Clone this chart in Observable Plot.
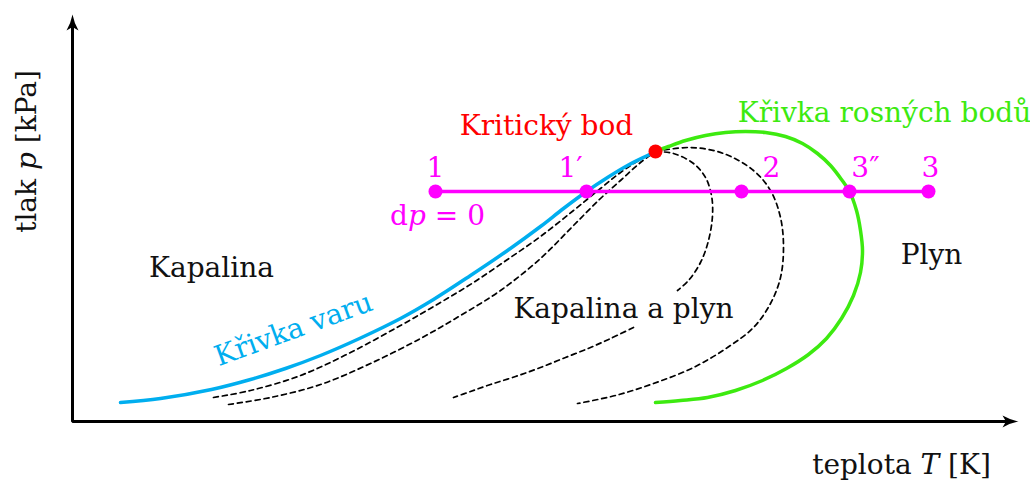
<!DOCTYPE html>
<html><head><meta charset="utf-8">
<script src="https://cdn.jsdelivr.net/npm/d3@7"></script>
<script src="https://cdn.jsdelivr.net/npm/@observablehq/plot@0.6"></script>
<style>body{margin:0;background:#fff} svg text{font-family:"DejaVu Serif","Liberation Serif",serif !important}</style>
</head><body><div id="chart"></div>
<script>
// T (temperature, arbitrary units) and p (pressure, arbitrary units)
const boilingT = [48, 88, 139, 178, 213, 248, 287, 328, 361, 398, 435, 468, 491, 514, 535, 555, 575, 583];
const boilingP = [19, 23, 32, 42, 53, 66, 83, 103, 122, 146, 171, 195, 213, 230, 244, 256, 266, 270];

const dewT = [583, 596, 613, 633, 653, 673, 693, 713, 730, 745, 758, 769, 777, 784, 788, 790, 788, 781, 769, 754, 736, 714, 690, 663, 635, 608, 583];
const dewP = [270, 275, 281, 286, 289, 290, 289, 285, 278, 268, 256, 242, 230, 211, 191, 171, 149, 126, 103, 83, 67, 53, 41, 31, 24, 21, 19];

const q1T = [141, 178, 228, 278, 328, 368, 401, 435, 468, 501, 528, 548, 568, 583];
const q1P = [24, 31, 46, 69, 96, 119, 139, 162, 185, 211, 233, 249, 262, 270];

const q2T = [156, 198, 248, 298, 348, 388, 428, 468, 501, 528, 548, 568, 583];
const q2P = [17, 24, 37, 58, 83, 106, 131, 163, 196, 223, 241, 259, 270];

const q3UpperT = [583, 601, 621, 633, 639, 640, 636, 628, 616, 605];
const q3UpperP = [270, 268, 258, 244, 226, 206, 181, 159, 141, 131];
const q3LowerT = [561, 538, 518, 493, 468, 443, 418, 398, 381];
const q3LowerP = [94, 83, 74, 64, 54, 45, 37, 30, 24];

const q4T = [583, 618, 651, 681, 698, 708, 711, 708, 698, 681, 655, 621, 581, 543, 505];
const q4P = [270, 274, 268, 251, 231, 204, 174, 144, 118, 94, 74, 54, 38, 26, 18];

const isobarNames = ["1", "1′", "2", "3″", "3"];
const isobarT = [363, 514, 669, 777, 856];
const isobarP = 230;
const isobarLabelT = [363, 498, 699, 793, 858];
const isobarLabelP = 253;

const criticalT = 583, criticalP = 270;

const labelTexts  = ["Kapalina", "Plyn", "Kapalina a plyn", "Kritický bod", "Křivka rosných bodů", "Křivka varu", "dp = 0"];
const labelT      = [139, 859, 551, 474, 812, 221, 365];
const labelP      = [153, 166, 112, 295, 308, 92, 205];
const labelColors = ["#111", "#111", "#111", "#ff0000", "#3dea10", "#00aeef", "#ff00ff"];
const labelRotate = [0, 0, 0, 0, 0, -20, 0];

const axisTitleX = "teplota T [K]";
const axisTitleY = "tlak p [kPa]";
const TMAX = 946, PMAX = 407;

const BLUE = "#00aeef", GREEN = "#3dea10", MAGENTA = "#ff00ff";

const toRows = (xs, ys) => xs.map((x, i) => ({T: x, p: ys[i]}));
const boiling = toRows(boilingT, boilingP);
const dew = toRows(dewT, dewP);
const dashed = [toRows(q1T, q1P), toRows(q2T, q2P), toRows(q3UpperT, q3UpperP), toRows(q3LowerT, q3LowerP), toRows(q4T, q4P)];
const isobar = isobarT.map((t, i) => ({T: t, p: isobarP, name: isobarNames[i], lt: isobarLabelT[i]}));
const labels = labelTexts.map((s, i) => ({s, T: labelT[i], p: labelP[i], c: labelColors[i], r: labelRotate[i]}));

const arrowUp = {draw(c) {
  c.moveTo(0, 0); c.quadraticCurveTo(1.5, 8, 6, 16); c.lineTo(0, 12.5);
  c.lineTo(-6, 16); c.quadraticCurveTo(-1.5, 8, 0, 0); c.closePath();
}};
const arrowRight = {draw(c) {
  c.moveTo(0, 0); c.quadraticCurveTo(-8, 1.5, -16, 6); c.lineTo(-12.5, 0);
  c.lineTo(-16, -6); c.quadraticCurveTo(-8, -1.5, 0, 0); c.closePath();
}};

const font = "'DejaVu Serif', 'Liberation Serif', serif";
const fs = 28;

const chart = Plot.plot({
  width: 1030, height: 483,
  marginLeft: 72, marginRight: 12, marginTop: 14, marginBottom: 62,
  x: {domain: [0, TMAX], axis: null},
  y: {domain: [0, PMAX], axis: null},
  style: {fontFamily: font, background: "white", overflow: "visible"},
  marks: [
    ...dashed.map(d => Plot.line(d, {x: "T", y: "p", stroke: "black", strokeWidth: 1.7, strokeDasharray: "5,4", curve: "catmull-rom"})),
    Plot.line(boiling, {x: "T", y: "p", stroke: BLUE, strokeWidth: 3.5, curve: "catmull-rom"}),
    Plot.line(dew, {x: "T", y: "p", stroke: GREEN, strokeWidth: 3.5, curve: "catmull-rom"}),
    Plot.line(isobar, {x: "T", y: "p", stroke: MAGENTA, strokeWidth: 3.5}),
    Plot.dot(isobar, {x: "T", y: "p", r: 7, fill: MAGENTA}),
    Plot.text(isobar, {x: "lt", y: () => isobarLabelP, text: "name", fill: MAGENTA, fontSize: fs}),
    Plot.dot([{T: criticalT, p: criticalP}], {x: "T", y: "p", r: 7, fill: "#ff0000"}),
    Plot.text(labels, {x: "T", y: "p", text: "s", fill: "c", rotate: "r", fontSize: fs}),
    Plot.text([axisTitleX], {x: () => 829, y: () => -44, text: d => d, fill: "#111", fontSize: fs}),
    Plot.text([axisTitleY], {x: () => -45, y: () => 270, text: d => d, fill: "#111", rotate: -90, fontSize: fs}),
    Plot.line([{T: 0, p: PMAX - 10}, {T: 0, p: 0}, {T: TMAX - 10, p: 0}], {x: "T", y: "p", stroke: "black", strokeWidth: 3, strokeLinejoin: "miter", strokeLinecap: "butt"}),
    Plot.dot([{T: 0, p: PMAX}], {x: "T", y: "p", symbol: arrowUp, fill: "black", stroke: "none"}),
    Plot.dot([{T: TMAX, p: 0}], {x: "T", y: "p", symbol: arrowRight, fill: "black", stroke: "none"})
  ]
});

// italic math variables
const italic = {"tlak p [kPa]": "p", "dp = 0": "p", "teplota T [K]": "T"};
chart.querySelectorAll("text").forEach(t => {
  const s = t.textContent;
  if (italic[s] && t.children.length === 0) {
    const ch = italic[s];
    const i = s.indexOf(ch);
    t.textContent = "";
    const a = document.createElementNS("http://www.w3.org/2000/svg", "tspan"); a.textContent = s.slice(0, i);
    const b = document.createElementNS("http://www.w3.org/2000/svg", "tspan"); b.textContent = ch; b.setAttribute("font-style", "italic");
    const c = document.createElementNS("http://www.w3.org/2000/svg", "tspan"); c.textContent = s.slice(i + 1);
    t.append(a, b, c);
  }
});
document.getElementById("chart").append(chart);
</script>
</body></html>
